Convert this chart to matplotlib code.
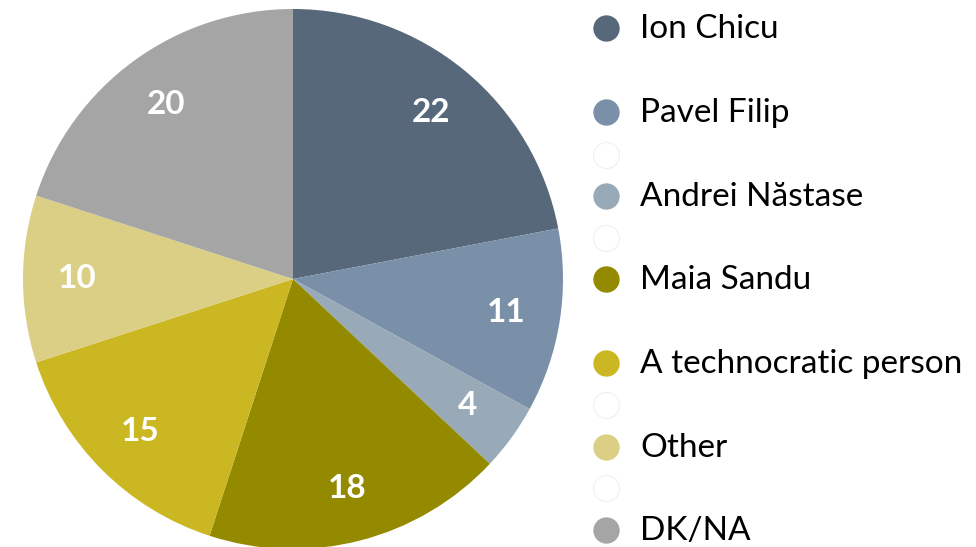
import matplotlib.pyplot as plt

# values
labels = ['Ion Chicu', 'Pavel Filip', 'Andrei Năstase', 'Maia Sandu',
          'A technocratic person', 'Other', 'DK/NA']
values = [22, 11, 4, 18, 15, 10, 20]
colors = ['#56687A', '#7A90A8', '#98AAB8', '#948A00', '#CBB721', '#DBCF86', '#A5A5A5']

plt.rcParams['font.family'] = ['Lato', 'DejaVu Sans']

W, H = 976, 547
fig = plt.figure(figsize=(W / 100, H / 100), dpi=100)
fig.patch.set_facecolor('white')

# pie centred at (293, 279) px, radius 270 px
cx, cy, r = 293, 279, 270
ax = fig.add_axes([(cx - r) / W, (H - cy - r) / H, 2 * r / W, 2 * r / H])
wedges, texts = ax.pie(values, colors=colors, startangle=90, counterclock=False,
                       labels=[str(v) for v in values], labeldistance=0.8,
                       wedgeprops=dict(linewidth=0),
                       textprops=dict(color='white', fontsize=24, fontweight='bold',
                                      ha='center', va='center'))
ax.set_xlim(-1, 1)
ax.set_ylim(-1, 1)
ax.set_aspect('equal')
ax.axis('off')

# legend drawn by hand: rows on a 41.8 px grid, with faint empty circles between some
lax = fig.add_axes([0, 0, 1, 1])
lax.set_xlim(0, W)
lax.set_ylim(H, 0)
lax.axis('off')
row_y = [28, 112, 196, 279, 363, 447, 530]
ghost_y = [155, 238, 405, 488]
for y in ghost_y:
    lax.scatter(606, y, s=350, facecolor='white', edgecolor='#F0F0F0', linewidth=0.8)
for lab, col, y in zip(labels, colors, row_y):
    lax.scatter(606, y, s=360, color=col, linewidth=0)
    lax.text(640, y + 1, lab, fontsize=24, color='black', va='center', ha='left')

fig.savefig('out.png', dpi=100)
